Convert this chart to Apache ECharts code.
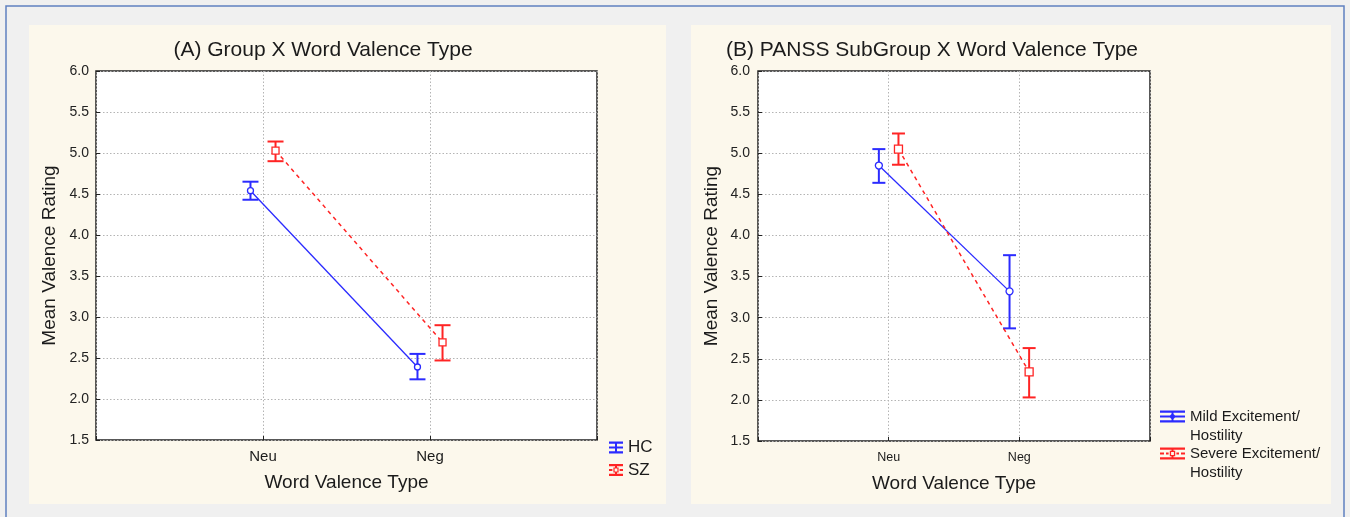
<!DOCTYPE html>
<html>
<head>
<meta charset="utf-8">
<script src="https://cdn.jsdelivr.net/npm/echarts@6/dist/echarts.min.js"></script>
<style>
html,body{margin:0;padding:0;background:#f0f0f0;}
#chart{width:1350px;height:517px;}
</style>
</head>
<body>
<div id="chart"></div>
<script>
// ---- data ----
const categories = ['Neu', 'Neg'];
const yTickMin = 1.5, yTickMax = 6.0, yTickStep = 0.5;

// Panel A: Group x Word Valence Type
const hcMean = [4.54, 2.39];
const hcLow  = [4.43, 2.24];
const hcHigh = [4.65, 2.55];
const szMean = [5.03, 2.69];
const szLow  = [4.90, 2.47];
const szHigh = [5.14, 2.90];

// Panel B: PANSS subgroup x Word Valence Type
const mildMean = [4.85, 3.32];
const mildLow  = [4.64, 2.87];
const mildHigh = [5.05, 3.76];
const sevMean  = [5.05, 2.34];
const sevLow   = [4.86, 2.03];
const sevHigh  = [5.24, 2.63];

// ---- styles ----
const BLUE = '#2b2bff';
const RED = '#ff2424';
const TXT = '#1b1b1b';
const FONT = '"Liberation Sans", Arial, sans-serif';
const OFF = 0.075;

function pts(mean, off) { return mean.map((v, i) => [i + 1 + off, v]); }
function errs(low, high, off) { return low.map((v, i) => [i + 1 + off, v, high[i]]); }

function errSeries(name, gi, low, high, off, color, hw) {
  return {
    type: 'custom', name: name, xAxisIndex: gi, yAxisIndex: gi, silent: true, z: 2,
    data: errs(low, high, off),
    encode: { x: 0, y: [1, 2] },
    renderItem: function (params, api) {
      const x = api.value(0);
      const lo = api.coord([x, api.value(1)]);
      const hi = api.coord([x, api.value(2)]);
      const st = { stroke: color, lineWidth: 2 };
      return {
        type: 'group', children: [
          { type: 'line', shape: { x1: lo[0], y1: lo[1], x2: hi[0], y2: hi[1] }, style: st },
          { type: 'line', shape: { x1: hi[0] - hw, y1: hi[1], x2: hi[0] + hw, y2: hi[1] }, style: st },
          { type: 'line', shape: { x1: lo[0] - hw, y1: lo[1], x2: lo[0] + hw, y2: lo[1] }, style: st }
        ]
      };
    }
  };
}

function lineSeries(name, gi, mean, off, color, symbol, size, dashed) {
  return {
    type: 'line', name: name, xAxisIndex: gi, yAxisIndex: gi, z: 3,
    data: pts(mean, off),
    symbol: symbol, symbolSize: size, showSymbol: true,
    itemStyle: { color: '#ffffff', borderColor: color, borderWidth: 1.3 },
    lineStyle: { color: color, width: dashed ? 1.5 : 1.3, type: dashed ? [4, 4] : 'solid' },
    emphasis: { disabled: true },
    animation: false
  };
}

function xAxis(gi, fs, margin) {
  return {
    type: 'value', gridIndex: gi, min: 0, max: 3, interval: 1,
    axisLine: { show: false },
    axisTick: { show: true, inside: true, length: 4, lineStyle: { color: '#222' } },
    axisLabel: { margin: margin, fontSize: fs, fontFamily: FONT, color: TXT,
      formatter: v => categories[v - 1] || '' },
    splitLine: { show: true, lineStyle: { color: '#b4b4b4', type: [1.5, 2], width: 1 } },
    name: 'Word Valence Type', nameLocation: 'middle', nameGap: 33,
    nameTextStyle: { fontSize: 19, fontFamily: FONT, color: TXT }
  };
}
function yAxis(gi, margin) {
  return {
    type: 'value', gridIndex: gi, min: yTickMin, max: yTickMax, interval: yTickStep,
    axisLine: { show: false },
    axisTick: { show: true, inside: true, length: 4, lineStyle: { color: '#222' } },
    axisLabel: { margin: margin, fontSize: 14, fontFamily: FONT, color: '#222',
      formatter: v => v.toFixed(1) },
    splitLine: { show: true, lineStyle: { color: '#b4b4b4', type: [1.5, 2], width: 1 } },
    name: 'Mean Valence Rating', nameLocation: 'middle', nameRotate: 90, nameGap: 37,
    nameTextStyle: { fontSize: 19, fontFamily: FONT, color: TXT }
  };
}

// legend icons (error-bar glyphs)
const iconSolid = 'path://M0,0H14V2.2H0Z M0,9.8H14V12H0Z M6,0H8V12H6Z M0,5H14V7H0Z';
const iconDash = 'path://M0,0H14V2.2H0Z M0,9.8H14V12H0Z M6,0H8V3.4H6Z M6,8.6H8V12H6Z M0,5H3.4V7H0Z M10.6,5H14V7H10.6Z M4.4,3.4H9.6V8.6H4.4Z M5.6,4.6V7.4H8.4V4.6Z';
const iconSolidB = 'path://M0,0H25V2.2H0Z M0,9.8H25V12H0Z M11.5,0H13.5V12H11.5Z M0,5H25V7H0Z M12.5,2.6L16,6L12.5,9.4L9,6Z M12.5,4.2L10.7,6L12.5,7.8L14.3,6Z';
const iconDashB = 'path://M0,0H25V2.2H0Z M0,9.8H25V12H0Z M11.5,0H13.5V3.2H11.5Z M11.5,8.8H13.5V12H11.5Z M0,5H4V7H0Z M6,5H8.6V7H6Z M16.4,5H19V7H16.4Z M21,5H25V7H21Z M9.8,3.2H15.2V8.8H9.8Z M11.1,4.5V7.5H13.9V4.5Z';

const option = {
  animation: false,
  backgroundColor: '#f0f0f0',
  graphic: [
    { type: 'rect', z: -10, shape: { x: 6, y: 6, width: 1338, height: 530 },
      style: { fill: '#f0f0f0', stroke: '#5f80c0', lineWidth: 1.5 } },
    { type: 'rect', z: -9, shape: { x: 29, y: 25, width: 637, height: 479 }, style: { fill: '#fcf8ec' } },
    { type: 'rect', z: -9, shape: { x: 691, y: 25, width: 640, height: 479 }, style: { fill: '#fcf8ec' } }
  ],
  title: [
    { text: '(A) Group X Word Valence Type', left: 318, top: 35, textAlign: 'center',
      textStyle: { fontSize: 21, fontWeight: 'normal', fontFamily: FONT, color: TXT } },
    { text: '(B) PANSS SubGroup X Word Valence Type', left: 927, top: 35, textAlign: 'center',
      textStyle: { fontSize: 21, fontWeight: 'normal', fontFamily: FONT, color: TXT } }
  ],
  grid: [
    { left: 96, top: 71, width: 501, height: 369, show: true, backgroundColor: '#ffffff',
      borderColor: '#222', borderWidth: 1.5 },
    { left: 758, top: 71, width: 392, height: 370, show: true, backgroundColor: '#ffffff',
      borderColor: '#222', borderWidth: 1.5 }
  ],
  xAxis: [xAxis(0, 15, 9), xAxis(1, 12.5, 10)],
  yAxis: [yAxis(0, 7), yAxis(1, 8)],
  legend: [
    { left: 609, top: 439, orient: 'vertical', itemWidth: 14, itemHeight: 12, itemGap: 5.5, padding: 0,
      selectedMode: false,
      textStyle: { fontSize: 17, lineHeight: 17, fontFamily: FONT, color: TXT },
      data: [
        { name: 'HC', icon: iconSolid, itemStyle: { color: BLUE, borderWidth: 0 } },
        { name: 'SZ', icon: iconDash, itemStyle: { color: RED, borderWidth: 0 } }
      ] },
    { left: 1160, top: 388, orient: 'vertical', itemWidth: 25, itemHeight: 12, padding: 0,
      selectedMode: false,
      formatter: n => ' \n' + n.replace('/ ', '/\n'),
      textStyle: { fontSize: 15, lineHeight: 19, fontFamily: FONT, color: TXT },
      data: [ { name: 'Mild Excitement/ Hostility', icon: iconSolidB, itemStyle: { color: BLUE, borderWidth: 0 } } ] },
    { left: 1160, top: 425, orient: 'vertical', itemWidth: 25, itemHeight: 12, padding: 0,
      selectedMode: false,
      formatter: n => ' \n' + n.replace('/ ', '/\n'),
      textStyle: { fontSize: 15, lineHeight: 19, fontFamily: FONT, color: TXT },
      data: [ { name: 'Severe Excitement/ Hostility', icon: iconDashB, itemStyle: { color: RED, borderWidth: 0 } } ] }
  ],
  series: [
    errSeries('HC err', 0, hcLow, hcHigh, -OFF, BLUE, 8),
    errSeries('SZ err', 0, szLow, szHigh, OFF, RED, 8),
    lineSeries('HC', 0, hcMean, -OFF, BLUE, 'circle', 6, false),
    lineSeries('SZ', 0, szMean, OFF, RED, 'rect', 7, true),
    errSeries('Mild err', 1, mildLow, mildHigh, -OFF, BLUE, 6.5),
    errSeries('Severe err', 1, sevLow, sevHigh, OFF, RED, 6.5),
    lineSeries('Mild Excitement/ Hostility', 1, mildMean, -OFF, BLUE, 'circle', 7, false),
    lineSeries('Severe Excitement/ Hostility', 1, sevMean, OFF, RED, 'rect', 8, true)
  ]
};

const chart = echarts.init(document.getElementById('chart'), null, { renderer: 'canvas' });
chart.setOption(option);
</script>
</body>
</html>
